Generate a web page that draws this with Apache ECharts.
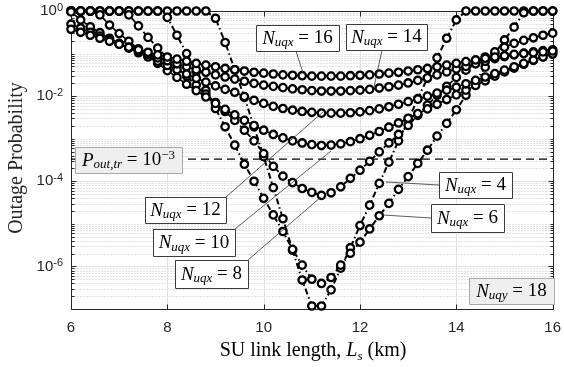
<!DOCTYPE html>
<html>
<head>
<meta charset="utf-8">
<script src="https://cdn.jsdelivr.net/npm/echarts@6/dist/echarts.min.js"></script>
<style>
html,body{margin:0;padding:0;background:#ffffff;}
#chart{width:564px;height:367px;}
</style>
</head>
<body>
<div id="chart"></div>
<script>
// SU link length (km)
const linkLengthKm = [6.0,6.2,6.4,6.6,6.8,7.0,7.2,7.4,7.6,7.8,8.0,8.2,8.4,8.6,8.8,9.0,9.2,9.4,9.6,9.8,10.0,10.2,10.4,10.6,10.8,11.0,11.2,11.4,11.6,11.8,12.0,12.2,12.4,12.6,12.8,13.0,13.2,13.4,13.6,13.8,14.0,14.2,14.4,14.6,14.8,15.0,15.2,15.4,15.6,15.8,16.0];

// log10(outage probability), one list per N_uqx
const log10P_N4 = [0,0,0,0,0,0,0,0,0,0,0,0,0,0,0,
  -0.17,-0.74,-1.38,-2.03,-2.72,-3.42,-4.15,-4.88,-5.62,-6.32,-6.93,-6.93,-6.55,-6.04,-5.56,-5.04,-4.56,-4.05,-3.55,-3.05,-2.56,-2.06,-1.58,-1.10,-0.64,-0.21,
  0,0,0,0,0,0,0,0,0,0];
const log10P_N6 = [0,0,0,0,0,0,0,0,0,0,
  -0.15,-0.57,-1.00,-1.43,-1.86,-2.29,-2.72,-3.15,-3.60,-4.00,-4.40,-4.79,-5.18,-5.60,-5.97,-6.30,-6.40,-6.26,-5.97,-5.69,-5.43,-5.12,-4.81,-4.52,-4.19,-3.89,-3.58,-3.27,-2.94,-2.64,-2.32,-1.98,-1.65,-1.32,-0.99,-0.68,-0.38,-0.04,
  0,0,0];
const log10P_N8 = [0,0,0,0,0,0,
  -0.09,-0.35,-0.62,-0.87,-1.10,-1.32,-1.53,-1.74,-1.95,-2.15,-2.36,-2.57,-2.80,-3.05,-3.35,-3.65,-3.88,-4.03,-4.17,-4.26,-4.33,-4.27,-4.13,-3.93,-3.74,-3.53,-3.31,-3.10,-2.90,-2.69,-2.45,-2.21,-1.98,-1.77,-1.56,-1.39,-1.23,-1.08,-0.96,-0.85,-0.76,-0.69,-0.63,-0.57,-0.52];
const log10P_N10 = [0,0,0,
  -0.09,-0.33,-0.53,-0.71,-0.89,-1.06,-1.23,-1.40,-1.56,-1.72,-1.87,-2.02,-2.17,-2.31,-2.44,-2.57,-2.69,-2.80,-2.90,-2.98,-3.05,-3.10,-3.14,-3.16,-3.15,-3.12,-3.07,-3.00,-2.92,-2.83,-2.73,-2.63,-2.52,-2.41,-2.30,-2.19,-2.08,-1.97,-1.86,-1.75,-1.64,-1.53,-1.43,-1.34,-1.25,-1.16,-1.07,-0.98];
const log10P_N12 = [-0.02,-0.21,-0.37,-0.51,-0.64,-0.76,-0.87,-0.98,-1.08,-1.18,-1.28,-1.38,-1.48,-1.58,-1.67,-1.76,-1.84,-1.91,-2.01,-2.10,-2.17,-2.24,-2.29,-2.33,-2.36,-2.38,-2.40,-2.40,-2.40,-2.39,-2.37,-2.34,-2.30,-2.25,-2.19,-2.13,-2.07,-2.00,-1.93,-1.86,-1.79,-1.71,-1.63,-1.55,-1.47,-1.39,-1.31,-1.23,-1.15,-1.08,-1.01];
const log10P_N14 = [-0.31,-0.40,-0.50,-0.59,-0.68,-0.77,-0.86,-0.94,-1.02,-1.10,-1.17,-1.24,-1.31,-1.38,-1.44,-1.50,-1.55,-1.60,-1.65,-1.70,-1.74,-1.77,-1.80,-1.83,-1.85,-1.87,-1.88,-1.88,-1.88,-1.87,-1.86,-1.84,-1.81,-1.78,-1.74,-1.69,-1.63,-1.57,-1.50,-1.43,-1.36,-1.30,-1.24,-1.18,-1.12,-1.07,-1.03,-0.99,-0.96,-0.93,-0.91];
const log10P_N16 = [-0.43,-0.50,-0.57,-0.64,-0.71,-0.78,-0.85,-0.91,-0.97,-1.03,-1.08,-1.13,-1.18,-1.23,-1.27,-1.31,-1.35,-1.38,-1.41,-1.44,-1.46,-1.48,-1.50,-1.51,-1.52,-1.53,-1.53,-1.53,-1.53,-1.52,-1.51,-1.50,-1.48,-1.46,-1.44,-1.41,-1.38,-1.35,-1.31,-1.27,-1.23,-1.19,-1.15,-1.11,-1.08,-1.05,-1.02,-1.00,-0.98,-0.96,-0.94];

// threshold line (as drawn) and its x span
const thresholdLog10 = -3.48;
const thresholdSpanKm = [6, 16];

// axis ticks
const xTickValues = [6, 8, 10, 12, 14, 16];
const yLabelledDecades = [0, -2, -4, -6];

const serif = '"Liberation Serif", "Times New Roman", serif';
const sans = '"Liberation Sans", Arial, Helvetica, sans-serif';
const axisInk = '#262626';

const curves = [
  { name: 'N_uqx = 4',  logs: log10P_N4,  dash: [6, 3, 1.5, 3], width: 2 },
  { name: 'N_uqx = 6',  logs: log10P_N6,  dash: [6, 3, 1.5, 3], width: 2 },
  { name: 'N_uqx = 8',  logs: log10P_N8,  dash: [6, 3], width: 1.8 },
  { name: 'N_uqx = 10', logs: log10P_N10, dash: 'solid', width: 1.6 },
  { name: 'N_uqx = 12', logs: log10P_N12, dash: 'solid', width: 1.6 },
  { name: 'N_uqx = 14', logs: log10P_N14, dash: 'solid', width: 1.6 },
  { name: 'N_uqx = 16', logs: log10P_N16, dash: 'solid', width: 1.6 }
];

const chart = echarts.init(document.getElementById('chart'), null, { renderer: 'canvas' });

function crisp(v) { return Math.round(v) + 0.5; }

function decorItem(params, api) {
  const kids = [];
  const tl = api.coord([6, 1]);
  const br = api.coord([16, 1e-7]);
  const L = crisp(tl[0]), R = crisp(br[0]), T = crisp(tl[1]), B = crisp(br[1]);
  const hline = (y, style) => kids.push({ type: 'line', shape: { x1: L, y1: y, x2: R, y2: y }, style: style });
  const vline = (x, style) => kids.push({ type: 'line', shape: { x1: x, y1: T, x2: x, y2: B }, style: style });
  const majorGrid = { stroke: '#e2e2e2', lineWidth: 1 };
  const minorGrid = { stroke: '#c4c4c4', lineWidth: 1, lineDash: [1, 2] };
  const tickStyle = { stroke: axisInk, lineWidth: 1 };
  for (let k = -7; k < 0; k++) {
    for (let m = 1; m <= 9; m++) {
      if (m === 1 && k === -7) continue;
      const y = crisp(api.coord([6, m * Math.pow(10, k)])[1]);
      const isMajor = (m === 1 && yLabelledDecades.indexOf(k) >= 0);
      hline(y, isMajor ? majorGrid : minorGrid);
      const len = isMajor ? 5 : 3;
      kids.push({ type: 'line', shape: { x1: L, y1: y, x2: L + len, y2: y }, style: tickStyle });
      kids.push({ type: 'line', shape: { x1: R, y1: y, x2: R - len, y2: y }, style: tickStyle });
    }
  }
  xTickValues.forEach(v => {
    const x = crisp(api.coord([v, 1e-3])[0]);
    if (v > 6 && v < 16) vline(x, majorGrid);
    kids.push({ type: 'line', shape: { x1: x, y1: B, x2: x, y2: B - 5 }, style: tickStyle });
    kids.push({ type: 'line', shape: { x1: x, y1: T, x2: x, y2: T + 5 }, style: tickStyle });
  });
  kids.push({ type: 'rect', shape: { x: L, y: T, width: R - L, height: B - T }, style: { fill: null, stroke: axisInk, lineWidth: 1 } });
  return { type: 'group', children: kids };
}

const series = [{
  type: 'custom', name: 'decor', data: [[11, 1e-3]], renderItem: decorItem,
  silent: true, clip: false, z: 1, animation: false
}, {
  type: 'line', name: 'threshold',
  data: thresholdSpanKm.map(x => [x, Math.pow(10, thresholdLog10)]),
  symbol: 'none', lineStyle: { color: '#000', width: 1.3, type: [8, 5] },
  z: 2, animation: false, silent: true
}].concat(curves.map(c => ({
  type: 'line', name: c.name,
  data: linkLengthKm.map((x, i) => [x, Math.pow(10, c.logs[i])]),
  symbol: 'circle', symbolSize: 7.4,
  itemStyle: { color: '#ffffff', borderColor: '#000', borderWidth: 2.3 },
  lineStyle: { color: '#000', width: c.width, type: c.dash },
  clip: false, z: 3, animation: false, silent: true
})));

const richBox = {
  n: { fontFamily: serif, fontStyle: 'italic', fontSize: 19, lineHeight: 22, verticalAlign: 'middle', color: '#000' },
  s: { fontFamily: serif, fontStyle: 'italic', fontSize: 13, lineHeight: 13, verticalAlign: 'bottom', color: '#000' },
  t: { fontFamily: serif, fontSize: 19, lineHeight: 22, verticalAlign: 'middle', color: '#000' },
  e: { fontFamily: serif, fontSize: 13, lineHeight: 13, verticalAlign: 'top', color: '#000' }
};

// annotation boxes: [x0, y0, x1, y1] in pixels
const annotations = [
  { text: '{n|N}{s|uqx}{t| = 16}', box: [256, 25, 339, 51], fill: '#ffffff', stroke: '#3c3c3c' },
  { text: '{n|N}{s|uqx}{t| = 14}', box: [346, 24, 427, 50], fill: '#ffffff', stroke: '#3c3c3c' },
  { text: '{n|N}{s|uqx}{t| = 12}', box: [145, 197, 226, 223], fill: '#ffffff', stroke: '#3c3c3c' },
  { text: '{n|N}{s|uqx}{t| = 10}', box: [153, 229, 235, 256], fill: '#ffffff', stroke: '#3c3c3c' },
  { text: '{n|N}{s|uqx}{t| = 8}',  box: [175, 260, 248, 288], fill: '#ffffff', stroke: '#3c3c3c' },
  { text: '{n|N}{s|uqx}{t| = 4}',  box: [439, 172, 512, 198], fill: '#ffffff', stroke: '#3c3c3c' },
  { text: '{n|N}{s|uqx}{t| = 6}',  box: [431, 204, 504, 232], fill: '#ffffff', stroke: '#3c3c3c' },
  { text: '{n|P}{s|out,tr}{t| = 10}{e|\u22123}', box: [75, 147, 182, 173], fill: '#efefef', stroke: '#a8a8a8' },
  { text: '{n|N}{s|uqy}{t| = 18}', box: [469, 278, 554, 304], fill: '#efefef', stroke: '#a8a8a8' }
];
const leaders = [
  [296, 51, 303, 73], [382, 50, 374, 87], [226, 197, 323, 112],
  [235, 229, 331, 151], [248, 260, 321, 197], [439, 185, 386, 182], [431, 218, 383, 215]
];

const graphics = [];
leaders.forEach(l => graphics.push({
  type: 'line', z: 50, silent: true,
  shape: { x1: l[0], y1: l[1], x2: l[2], y2: l[3] },
  style: { stroke: '#333', lineWidth: 0.8 }
}));
annotations.forEach(a => {
  const [x0, y0, x1, y1] = a.box;
  graphics.push({ type: 'rect', z: 60, silent: true,
    shape: { x: x0 + 0.5, y: y0 + 0.5, width: x1 - x0, height: y1 - y0 },
    style: { fill: a.fill, stroke: a.stroke, lineWidth: 1 } });
  graphics.push({ type: 'text', z: 61, silent: true,
    x: (x0 + x1) / 2, y: (y0 + y1) / 2 + 0.5,
    style: { text: a.text, rich: richBox, align: 'center', verticalAlign: 'middle' } });
});
graphics.push({ type: 'text', z: 61, silent: true, x: 313, y: 351,
  style: { text: '{r|SU link length, }{i|L}{s|s}{r| (km)}', align: 'center', verticalAlign: 'middle',
    rich: {
      r: { fontFamily: serif, fontSize: 20, lineHeight: 24, verticalAlign: 'middle', color: axisInk },
      i: { fontFamily: serif, fontStyle: 'italic', fontSize: 20, lineHeight: 24, verticalAlign: 'middle', color: axisInk },
      s: { fontFamily: serif, fontStyle: 'italic', fontSize: 13, lineHeight: 13, verticalAlign: 'bottom', color: axisInk }
    } } });
graphics.push({ type: 'text', z: 61, silent: true, x: 17, y: 158, rotation: Math.PI / 2,
  style: { text: 'Outage Probability', fontFamily: serif, fontSize: 20, fill: axisInk, align: 'center', verticalAlign: 'middle' } });

chart.setOption({
  animation: false,
  backgroundColor: '#ffffff',
  grid: { left: 71, top: 11, width: 485, height: 298, containLabel: false },
  xAxis: {
    type: 'value', min: 6, max: 16, interval: 2,
    axisLine: { show: false }, axisTick: { show: false }, splitLine: { show: false },
    axisLabel: { fontFamily: sans, fontSize: 15, color: axisInk, margin: 11,
      formatter: v => (xTickValues.indexOf(v) >= 0 ? String(v) : '') }
  },
  yAxis: {
    type: 'log', logBase: 10, min: 1e-7, max: 1,
    axisLine: { show: false }, axisTick: { show: false }, splitLine: { show: false }, minorSplitLine: { show: false },
    axisLabel: {
      margin: 8, color: axisInk,
      formatter: v => {
        const e = Math.round(Math.log10(v));
        if (yLabelledDecades.indexOf(e) < 0) return '';
        return '{b|10}{e|' + (e === 0 ? '0' : '-' + (-e)) + '}';
      },
      rich: {
        b: { fontFamily: sans, fontSize: 15, lineHeight: 18, verticalAlign: 'middle', color: axisInk },
        e: { fontFamily: sans, fontSize: 11, lineHeight: 11, verticalAlign: 'top', color: axisInk }
      }
    }
  },
  graphic: graphics,
  series: series
});
</script>
</body>
</html>
